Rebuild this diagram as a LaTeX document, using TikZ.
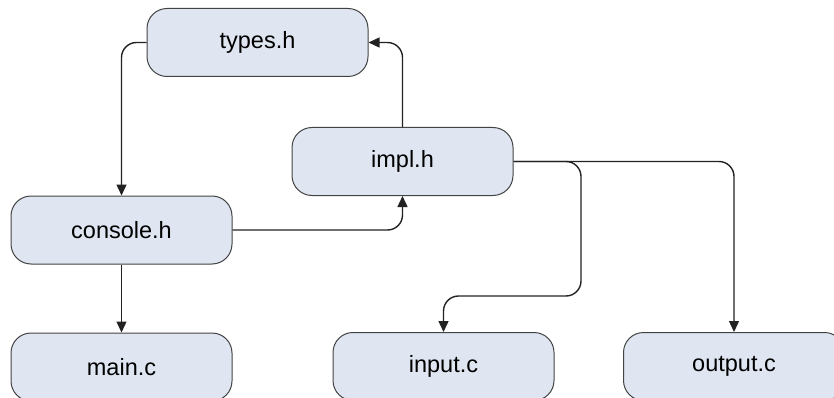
\documentclass[tikz,border=0pt]{standalone}
\usepackage{fontspec}
\setmainfont{Liberation Sans}
\usetikzlibrary{arrows.meta}
\definecolor{boxfill}{RGB}{223,230,241}
\definecolor{ink}{RGB}{34,34,34}
\begin{document}
\begin{tikzpicture}[x=1pt,y=-1pt,
  module/.style={draw=ink!85, line width=1pt, fill=boxfill, rounded corners=20pt,
    minimum width=221pt, minimum height=68pt, inner sep=0pt,
    font=\fontsize{23.5}{28}\selectfont},
  link/.style={draw=ink, line width=1.4pt, rounded corners=15pt,
    -{Triangle[length=11pt,width=10pt]}}]
\useasboundingbox (0,0) rectangle (834,398);
\clip (0,0) rectangle (834,398);

% header and source modules
\node[module] (types)   at (257.5,42.5)  {types.h};
\node[module] (impl)    at (402.5,161.5) {impl.h};
\node[module] (console) at (121.5,230)   {console.h};
\node[module] (main)    at (121.5,367)   {main.c};
\node[module] (input)   at (443.5,366.5) {input.c};
\node[module] (output)  at (734,366.5)   {output.c};

% bend point of the impl.h -> input.c route
\coordinate (bend) at (581,296);

% include dependencies
\draw[link] (types.west) -| (console.north);
\draw[link] (impl.north) |- (types.east);
\draw[link] (console.east) -| (impl.south);
\draw[link] (console.south) -- (main.north);
\draw[link] (impl.east) -| (bend) -| (input.north);
\draw[link] (impl.east) -| (output.north);
\end{tikzpicture}
\end{document}
